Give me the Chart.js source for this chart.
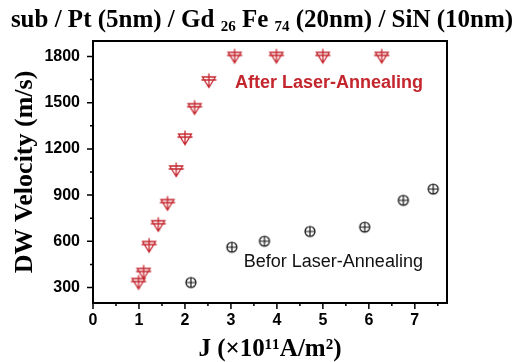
<!DOCTYPE html>
<html>
<head>
<meta charset="utf-8">
<script src="https://cdn.jsdelivr.net/npm/chart.js@4/dist/chart.umd.min.js"></script>
<style>
  html, body { margin: 0; padding: 0; background: #fff; }
  #wrap { width: 522px; height: 362px; }
</style>
</head>
<body>
<div id="wrap"><canvas id="chart" width="522" height="362"></canvas></div>
<script>
// J in units of 1e11 A/m^2, velocity in m/s
const afterJ = [0.99, 1.10, 1.22, 1.42, 1.62, 1.81, 2.0, 2.21, 2.52, 3.08, 3.99, 5.0, 6.28];
const afterV = [333, 398, 573, 708, 845, 1063, 1270, 1467, 1641, 1800, 1800, 1800, 1800];
const beforeJ = [2.13, 3.02, 3.73, 4.72, 5.91, 6.75, 7.4];
const beforeV = [333, 562, 601, 664, 692, 866, 939];

const xTicks = [0, 1, 2, 3, 4, 5, 6, 7];
const xMinor = [0.5, 1.5, 2.5, 3.5, 4.5, 5.5, 6.5, 7.5];
const yTicks = [300, 600, 900, 1200, 1500, 1800];
const yMinor = [450, 750, 1050, 1350, 1650];

const titleParts = [
    ['sub / Pt (5nm) / Gd ', false],
    ['26', true],
    [' Fe ', false],
    ['74', true],
    [' (20nm) / SiN (10nm)', false]
];

const RED = '#c4262e';

function triDownPlus() {
    const c = document.createElement('canvas');
    c.width = 18; c.height = 18;
    const g = c.getContext('2d');
    g.strokeStyle = RED;
    g.lineWidth = 1.3;
    g.translate(9, 9);
    g.beginPath();
    g.moveTo(-6.5, -4); g.lineTo(6.5, -4); g.lineTo(0, 6.5); g.closePath();
    g.moveTo(-7.5, -1); g.lineTo(7.5, -1);
    g.moveTo(0, -7.5); g.lineTo(0, 6.5);
    g.stroke();
    return c;
}

function circlePlus() {
    const c = document.createElement('canvas');
    c.width = 14; c.height = 14;
    const g = c.getContext('2d');
    g.strokeStyle = '#111';
    g.lineWidth = 1.2;
    g.translate(7, 7);
    g.beginPath();
    g.arc(0, 0, 5, 0, Math.PI * 2);
    g.moveTo(-5, 0); g.lineTo(5, 0);
    g.moveTo(0, -5); g.lineTo(0, 5);
    g.stroke();
    return c;
}

const frame = {
    id: 'frame',
    afterDraw(chart) {
        const { ctx, chartArea: a, scales } = chart;
        ctx.save();
        ctx.strokeStyle = '#000';
        ctx.lineWidth = 2;
        ctx.strokeRect(a.left, a.top, a.right - a.left, a.bottom - a.top);
        ctx.lineWidth = 1.5;
        ctx.beginPath();
        xTicks.forEach(v => {
            const x = scales.x.getPixelForValue(v);
            ctx.moveTo(x, a.bottom); ctx.lineTo(x, a.bottom + 6);
        });
        xMinor.forEach(v => {
            const x = scales.x.getPixelForValue(v);
            ctx.moveTo(x, a.bottom); ctx.lineTo(x, a.bottom + 3);
        });
        yTicks.forEach(v => {
            const y = scales.y.getPixelForValue(v);
            ctx.moveTo(a.left, y); ctx.lineTo(a.left - 6, y);
        });
        yMinor.forEach(v => {
            const y = scales.y.getPixelForValue(v);
            ctx.moveTo(a.left, y); ctx.lineTo(a.left - 3, y);
        });
        ctx.stroke();

        // series labels
        ctx.textBaseline = 'middle';
        ctx.textAlign = 'left';
        ctx.fillStyle = RED;
        ctx.font = 'bold 18px "Liberation Sans", Arial, sans-serif';
        ctx.fillText('After Laser-Annealing', scales.x.getPixelForValue(3.09), scales.y.getPixelForValue(1626));
        ctx.fillStyle = '#111';
        ctx.font = '18px "Liberation Sans", Arial, sans-serif';
        ctx.fillText('Befor Laser-Annealing', scales.x.getPixelForValue(3.28), scales.y.getPixelForValue(468));

        // title with subscripts
        const big = 'bold 25px "Liberation Serif", "Times New Roman", serif';
        const small = 'bold 15px "Liberation Serif", "Times New Roman", serif';
        let w = 0;
        titleParts.forEach(([t, sub]) => { ctx.font = sub ? small : big; w += ctx.measureText(t).width; });
        let x = chart.width / 2 - w / 2 + 1;
        ctx.fillStyle = '#000';
        ctx.textBaseline = 'alphabetic';
        titleParts.forEach(([t, sub]) => {
            ctx.font = sub ? small : big;
            ctx.fillText(t, x, sub ? 31 : 27);
            x += ctx.measureText(t).width;
        });
        ctx.restore();
    }
};

new Chart(document.getElementById('chart'), {
    type: 'scatter',
    data: {
        datasets: [{
            label: 'After Laser-Annealing',
            data: afterJ.map((j, i) => ({ x: j, y: afterV[i] })),
            pointStyle: triDownPlus()
        }, {
            label: 'Befor Laser-Annealing',
            data: beforeJ.map((j, i) => ({ x: j, y: beforeV[i] })),
            pointStyle: circlePlus()
        }]
    },
    options: {
        responsive: false,
        animation: false,
        layout: { padding: { top: 41, right: 75, left: 0, bottom: 0 } },
        plugins: { legend: { display: false }, tooltip: { enabled: false } },
        scales: {
            x: {
                type: 'linear',
                min: 0,
                max: 7.7,
                afterBuildTicks: s => { s.ticks = xTicks.map(v => ({ value: v })); },
                afterFit: s => { s.height = 59; },
                grid: { display: false },
                border: { display: false },
                ticks: {
                    padding: 0,
                    color: '#000',
                    callback: v => String(v),
                    font: { family: '"Liberation Sans", Arial, sans-serif', size: 16, weight: 'bold' }
                },
                title: {
                    display: true,
                    text: 'J (×10¹¹A/m²)',
                    color: '#000',
                    padding: { top: 0, bottom: 0 },
                    font: { family: '"Liberation Serif", "Times New Roman", serif', size: 25, weight: 'bold', lineHeight: 1.0 }
                }
            },
            y: {
                min: 200,
                max: 1900,
                afterBuildTicks: s => { s.ticks = yTicks.map(v => ({ value: v })); },
                afterFit: s => { s.width = 93; },
                grid: { display: false },
                border: { display: false },
                ticks: {
                    padding: 5,
                    color: '#000',
                    callback: v => String(v),
                    font: { family: '"Liberation Sans", Arial, sans-serif', size: 16, weight: 'bold' }
                },
                title: {
                    display: true,
                    text: 'DW Velocity (m/s)',
                    color: '#000',
                    padding: { top: 10, bottom: 0 },
                    font: { family: '"Liberation Serif", "Times New Roman", serif', size: 26, weight: 'bold' }
                }
            }
        }
    },
    plugins: [frame]
});
</script>
</body>
</html>
